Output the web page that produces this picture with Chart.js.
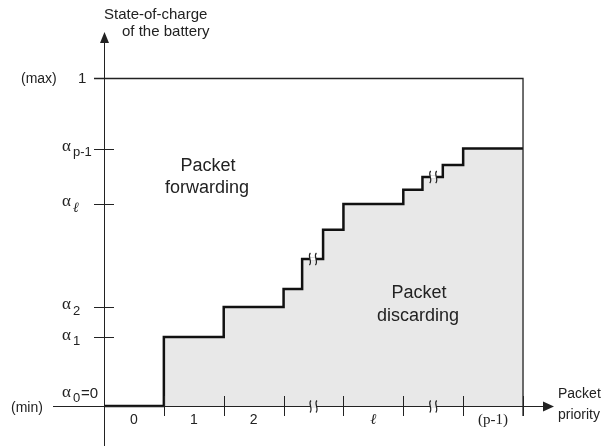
<!DOCTYPE html>
<html>
<head>
<meta charset="utf-8">
<script src="https://cdn.jsdelivr.net/npm/chart.js@4"></script>
<style>
  html, body { margin: 0; padding: 0; background: #fff; }
  #wrap { width: 606px; height: 448px; }
</style>
</head>
<body>
<div id="wrap"><canvas id="c"></canvas></div>
<script>
// staircase: x where each step ends (priority units), and the level reached there
const stepX = [0, 1, 2, 3, 3.31, 3.66, 4, 5, 5.32, 5.66, 6, 7];
const stepY = [0, 0.21, 0.302, 0.357, 0.448, 0.537, 0.616, 0.659, 0.698, 0.735, 0.785, 0.785];

// y axis tick levels and their labels
const yTickVals = [0.21, 0.302, 0.616, 0.785];
const yTickSubs = ['1', '2', 'ℓ', 'p-1'];

// x axis ticks (class borders) and class labels
const xTickVals = [1, 2, 3, 4, 5, 6, 7];
const xLabelPos = [0.5, 1.5, 2.5, 4.5, 6.5];
const xLabelText = ['0', '1', '2', 'ℓ', '(p-1)'];
const xBreaks = [3.5, 5.5];
// breaks drawn on the staircase
const lineBreaksX = [3.49, 5.5];
const lineBreaksY = [0.448, 0.698];

const sans = '"Liberation Sans", Arial, sans-serif';
const serif = '"Liberation Serif", "Times New Roman", serif';

function squiggle(ctx, cx, cy, gapColor) {
  // two small S-shaped break marks over a short gap
  ctx.save();
  ctx.fillStyle = gapColor;
  ctx.fillRect(cx - 3, cy - 1.5, 6, 3);
  ctx.strokeStyle = '#222';
  ctx.lineWidth = 1.2;
  [-3, 3].forEach(function (dx) {
    const x = cx + dx;
    ctx.beginPath();
    ctx.moveTo(x + 0.5, cy - 6);
    ctx.bezierCurveTo(x - 3, cy - 3, x + 3, cy + 2, x - 0.5, cy + 6);
    ctx.stroke();
  });
  ctx.restore();
}

const diagram = {
  id: 'diagram',
  afterDatasetsDraw(chart) {
    const ctx = chart.ctx;
    const xs = chart.scales.x, ys = chart.scales.y;
    const X = v => xs.getPixelForValue(v);
    const Y = v => ys.getPixelForValue(v);
    const x0 = X(0), y0 = Y(0), x7 = X(7), y1 = Y(1);

    ctx.save();
    ctx.strokeStyle = '#222';
    ctx.fillStyle = '#222';
    ctx.lineWidth = 1;

    // y axis with arrow
    ctx.beginPath();
    ctx.moveTo(x0 + 0.5, 446);
    ctx.lineTo(x0 + 0.5, 40);
    ctx.stroke();
    ctx.beginPath();
    ctx.moveTo(x0 + 0.5, 32);
    ctx.lineTo(x0 - 4, 43);
    ctx.lineTo(x0 + 5, 43);
    ctx.closePath();
    ctx.fill();

    // x axis with arrow
    ctx.beginPath();
    ctx.moveTo(53, y0 + 0.5);
    ctx.lineTo(545, y0 + 0.5);
    ctx.stroke();
    ctx.beginPath();
    ctx.moveTo(554, y0 + 0.5);
    ctx.lineTo(543, y0 - 4.5);
    ctx.lineTo(543, y0 + 5.5);
    ctx.closePath();
    ctx.fill();

    // box: max line and right border
    ctx.lineWidth = 1.3;
    ctx.beginPath();
    ctx.moveTo(x0 - 10, y1 + 0.5);
    ctx.lineTo(x7, y1 + 0.5);
    ctx.lineTo(x7, y0 + 10);
    ctx.stroke();
    ctx.lineWidth = 1;

    // y ticks
    yTickVals.forEach(v => {
      ctx.beginPath();
      ctx.moveTo(x0 - 10, Math.round(Y(v)) + 0.5);
      ctx.lineTo(x0 + 10, Math.round(Y(v)) + 0.5);
      ctx.stroke();
    });
    // x ticks
    xTickVals.forEach(v => {
      ctx.beginPath();
      ctx.moveTo(Math.round(X(v)) + 0.5, y0 - 10);
      ctx.lineTo(Math.round(X(v)) + 0.5, y0 + 10);
      ctx.stroke();
    });

    // break marks on axis and staircase
    xBreaks.forEach(v => squiggle(ctx, X(v), y0 + 0.5, '#e8e8e8'));
    lineBreaksX.forEach((v, i) => squiggle(ctx, X(v), Y(lineBreaksY[i]), '#fff'));

    // y labels
    ctx.textBaseline = 'middle';
    ctx.textAlign = 'left';
    ctx.font = '14px ' + sans;
    ctx.fillText('(max)', 21, y1 + 1);
    ctx.font = '15px ' + sans;
    ctx.fillText('1', 78, y1 + 1);
    ctx.font = '14px ' + sans;
    ctx.fillText('(min)', 11, y0 + 2);

    yTickVals.forEach((v, i) => {
      const y = Y(v);
      ctx.font = '17px ' + serif;
      ctx.fillText('α', 62, y - 2);
      const sub = yTickSubs[i];
      if (sub === 'ℓ') {
        ctx.font = 'italic 14px ' + serif;
      } else {
        ctx.font = '13px ' + sans;
      }
      ctx.fillText(sub, 73, y + 4);
    });
    // alpha0 = 0
    ctx.font = '17px ' + serif;
    ctx.fillText('α', 62, y0 - 13);
    ctx.font = '13px ' + sans;
    ctx.fillText('0', 73, y0 - 8);
    ctx.font = '15px ' + sans;
    ctx.fillText('=0', 81, y0 - 12);

    // x labels
    ctx.textAlign = 'center';
    xLabelPos.forEach((v, i) => {
      const t = xLabelText[i];
      if (t === 'ℓ') ctx.font = 'italic 15px ' + serif;
      else if (t.startsWith('(')) ctx.font = '15px ' + serif;
      else ctx.font = '14px ' + sans;
      ctx.fillText(t, X(v), y0 + 14);
    });

    // axis titles
    ctx.font = '15px ' + sans;
    ctx.textAlign = 'left';
    ctx.fillText('State-of-charge', 104, 15);
    ctx.fillText('of the battery', 122, 32);
    ctx.font = '14px ' + sans;
    ctx.fillText('Packet', 558, y0 - 12);
    ctx.fillText('priority', 558, y0 + 9);

    // region labels
    ctx.textAlign = 'center';
    ctx.font = '18px ' + sans;
    ctx.fillText('Packet', 208, 166);
    ctx.fillText('forwarding', 207, 188);
    ctx.fillText('Packet', 419, 293);
    ctx.fillText('discarding', 418, 316);

    ctx.restore();
  }
};

new Chart(document.getElementById('c'), {
  type: 'line',
  data: {
    datasets: [{
      data: stepX.map((x, i) => ({ x: x, y: stepY[i] })),
      stepped: true,
      borderColor: '#111',
      borderWidth: 2.5,
      backgroundColor: '#e8e8e8',
      fill: 'origin',
      pointRadius: 0
    }]
  },
  options: {
    responsive: true,
    maintainAspectRatio: false,
    animation: false,
    layout: { padding: 0 },
    plugins: { legend: { display: false }, tooltip: { enabled: false } },
    scales: {
      x: { type: 'linear', display: false, min: -104 / 59.86, max: (606 - 104) / 59.86 },
      y: { type: 'linear', display: false, min: -42 / 328, max: 406 / 328 }
    }
  },
  plugins: [diagram]
});
</script>
</body>
</html>
